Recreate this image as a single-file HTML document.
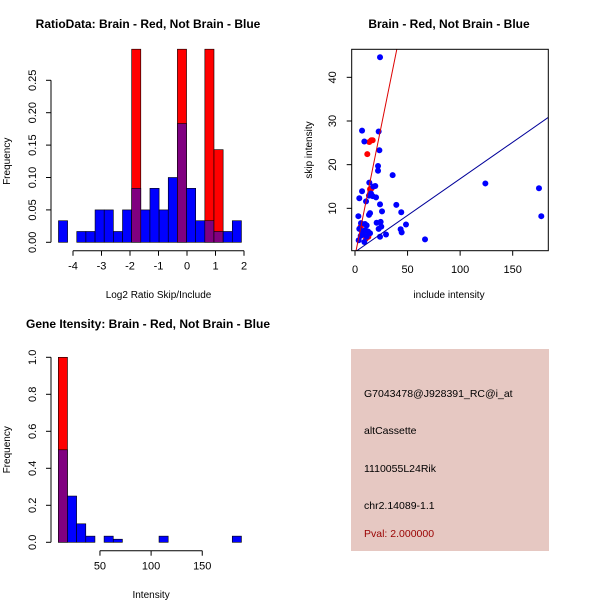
<!DOCTYPE html>
<html><head><meta charset="utf-8"><style>
body{margin:0;background:#fff}
svg{display:block;font-family:"Liberation Sans",sans-serif}
</style></head><body>
<svg id="c" width="600" height="600" xmlns="http://www.w3.org/2000/svg">
<rect width="600" height="600" fill="#fff"/>
</svg>
<script>
// Panel 1: ratio histogram
const ratioBinStart = -4.51, ratioBinWidth = 0.321;
const ratioBlue = [0.0333,0,0.0167,0.0167,0.05,0.05,0.0167,0.05,0.0833,0.05,0.0833,0.05,0.1,0.1833,0.0833,0.0333,0.0333,0.0167,0.0167,0.0333];
const ratioRed  = [0,0,0,0,0,0,0,0,0.298,0,0,0,0,0.298,0,0,0.298,0.143,0,0];
const ratioXTicks = [-4,-3,-2,-1,0,1,2];
const ratioYTicks = ["0.00","0.05","0.10","0.15","0.20","0.25"];
// Panel 2: scatter
const blueX = [23.8,6.7,8.9,22.5,23.2,21.9,21.9,35.8,19.3,13.6,6.7,4.1,10.5,15.2,16.8,20,17.4,13.3,23.8,25.7,39.3,44,124,175,177.2,3.2,14.3,13.3,20.6,24.4,25,22.5,5.7,9.5,11.1,4.1,6.7,9.8,12.4,7.9,3.5,8.9,14.3,23.8,29.5,43.4,44.4,48.5,66.6,5.4,11.1];
const blueY = [44.6,27.8,25.3,27.6,23.3,19.7,18.6,17.6,15.1,15.9,13.9,12.3,11.6,13.4,12.8,12.5,15,12.9,10.9,9.3,10.8,9.1,15.7,14.6,8.2,8.2,8.9,8.5,6.7,6.9,5.8,5.3,6.6,6.4,6.1,5.3,4.7,5,4.7,4,2.7,2.3,4.3,3.5,4,5.2,4.5,6.3,2.9,3.7,3.5];
const redX = [11.7,13.6,15.5,16.8,14.3,15.9,12.7,10.5,5.4];
const redY = [22.4,25.2,25.6,25.6,14.4,14.6,3.5,3.1,5.8];
const redFit = [1.19,-0.9], blueFit = [0.1676,0.0];
const scatXTicks = [0,50,100,150], scatYTicks = [10,20,30,40];
// Panel 3: intensity histogram
const intBinStart = 9.3, intBinWidth = 8.95;
const intBlue = [0.5,0.25,0.1,0.0333,0,0.0333,0.0167,0,0,0,0,0.0333,0,0,0,0,0,0,0,0.0333];
const intRed  = [1.0,0,0,0,0,0,0,0,0,0,0,0,0,0,0,0,0,0,0,0];
const intXTicks = [50,100,150], intYTicks = ["0.0","0.2","0.4","0.6","0.8","1.0"];

const NS="http://www.w3.org/2000/svg", svg=document.getElementById('c');
function mk(t,a,txt){const e=document.createElementNS(NS,t);for(const k in a)e.setAttribute(k,a[k]);if(txt!==undefined)e.textContent=txt;svg.appendChild(e);return e;}

function hist(sx,sy,start,w,blue,red){
  for(let i=0;i<blue.length;i++){
    const x0=sx(start+i*w),x1=sx(start+(i+1)*w);
    if(red[i]>0){const r=mk('rect',{x:x0,y:sy(red[i]),width:x1-x0,height:sy(0)-sy(red[i]),fill:'#ff0000',stroke:'#000','stroke-width':0.6});
      
      }
    if(blue[i]>0){const b=mk('rect',{x:x0,y:sy(blue[i]),width:x1-x0,height:sy(0)-sy(blue[i]),fill:red[i]>0?'#800080':'#0000ff',stroke:'#000','stroke-width':0.6});
      
      }
  }
}
function yaxis(x,sy,ticks,label,lx){
  mk('line',{x1:x,x2:x,y1:sy(+ticks[0]),y2:sy(+ticks[ticks.length-1]),stroke:'#000'});
  ticks.forEach(t=>{const y=sy(+t);mk('line',{x1:x-5,x2:x,y1:y,y2:y,stroke:'#000'});
    const e=mk('text',{x:x-15,y:y,'font-size':11,'text-anchor':'middle',transform:`rotate(-90 ${x-15} ${y})`},t);
    
    });
  const cy=(sy(+ticks[0])+sy(+ticks[ticks.length-1]))/2;
  const l=mk('text',{x:lx,y:cy,'font-size':10,'text-anchor':'middle',transform:`rotate(-90 ${lx} ${cy})`},label);
  
  
}
function xaxis(y,sx,ticks,label,ly){
  mk('line',{x1:sx(ticks[0]),x2:sx(ticks[ticks.length-1]),y1:y,y2:y,stroke:'#000'});
  ticks.forEach(t=>{const x=sx(t);mk('line',{x1:x,x2:x,y1:y,y2:y+5,stroke:'#000'});
    const e=mk('text',{x:x,y:y+19,'font-size':11,'text-anchor':'middle'},String(t));
    
    });
  const l=mk('text',{x:(sx(ticks[0])+sx(ticks[ticks.length-1]))/2,y:ly,'font-size':10,'text-anchor':'middle'},label);
  
  
}
function title(x,y,t){const e=mk('text',{x:x,y:y,'font-size':12,'font-weight':'bold','text-anchor':'middle'},t);
  
  }

// Panel 1
{const sx=v=>73+(v+4)*28.5, sy=v=>242.3-v*648;
 hist(sx,sy,ratioBinStart,ratioBinWidth,ratioBlue,ratioRed);
 yaxis(51,sy,ratioYTicks,'Frequency',10);
 xaxis(250.7,sx,ratioXTicks,'Log2 Ratio Skip/Include',298);
 title(148,28,'RatioData: Brain - Red, Not Brain - Blue');}

// Panel 2
{const sx=v=>355+v*1.0513, sy=v=>252-v*4.367;
 mk('defs',{}).innerHTML='<clipPath id="pc"><rect x="351.7" y="49.3" width="196.6" height="201.4"/></clipPath>';
 const g=mk('g',{'clip-path':'url(#pc)'});
 function line(f,col,name){const x0=-10,x1=200;
   const l=document.createElementNS(NS,'line');
   l.setAttribute('x1',sx(x0));l.setAttribute('y1',sy(f[0]*x0+f[1]));l.setAttribute('x2',sx(x1));l.setAttribute('y2',sy(f[0]*x1+f[1]));
   l.setAttribute('stroke',col);l.setAttribute('stroke-width',1);
   
   
   g.appendChild(l);}
 redX.forEach((x,i)=>{const c=mk('circle',{cx:sx(x),cy:sy(redY[i]),r:3,fill:'#ff0000'});
   
   });
 blueX.forEach((x,i)=>{const c=mk('circle',{cx:sx(x),cy:sy(blueY[i]),r:3,fill:'#0000ff'});
   
   });
 svg.appendChild(g);
 line(redFit,'#dd0000','red-fit-line'); line(blueFit,'#000099','blue-fit-line');
 const box=mk('rect',{x:351.7,y:49.3,width:196.6,height:201.4,fill:'none',stroke:'#000'});
 
 
 scatYTicks.forEach(t=>{const y=sy(t);mk('line',{x1:346.7,x2:351.7,y1:y,y2:y,stroke:'#000'});
   const e=mk('text',{x:336,y:y,'font-size':11,'text-anchor':'middle',transform:`rotate(-90 336 ${y})`},String(t));
   
   });
 scatXTicks.forEach(t=>{const x=sx(t);mk('line',{x1:x,x2:x,y1:250.7,y2:255.7,stroke:'#000'});
   const e=mk('text',{x:x,y:273,'font-size':11,'text-anchor':'middle'},String(t));
   
   });
 let e=mk('text',{x:449,y:298,'font-size':10,'text-anchor':'middle'},'include intensity');
 
 
 e=mk('text',{x:312,y:150,'font-size':10,'text-anchor':'middle',transform:'rotate(-90 312 150)'},'skip intensity');
 
 
 title(449,28,'Brain - Red, Not Brain - Blue');}

// Panel 3
{const sx=v=>48.8+v*1.023, sy=v=>542.3-v*185;
 hist(sx,sy,intBinStart,intBinWidth,intBlue,intRed);
 yaxis(51,sy,intYTicks,'Frequency',10);
 xaxis(550.7,sx,intXTicks,'Intensity',598);
 title(148,328,'Gene Itensity: Brain - Red, Not Brain - Blue');}

// Panel 4
{const r=mk('rect',{x:351,y:349,width:198,height:202,fill:'#e6c8c2'});
 
 
 const lines=[['G7043478@J928391_RC@i_at',397,'#000','probe-id'],['altCassette',434,'#000','event-type'],['1110055L24Rik',472,'#000','gene-name'],['chr2.14089-1.1',509,'#000','locus'],['Pval: 2.000000',537,'#990000','p-value']];
 lines.forEach(l=>{const e=mk('text',{x:364,y:l[1],'font-size':10.5,fill:l[2]},l[0]);
   
   });}
</script>
</body></html>
